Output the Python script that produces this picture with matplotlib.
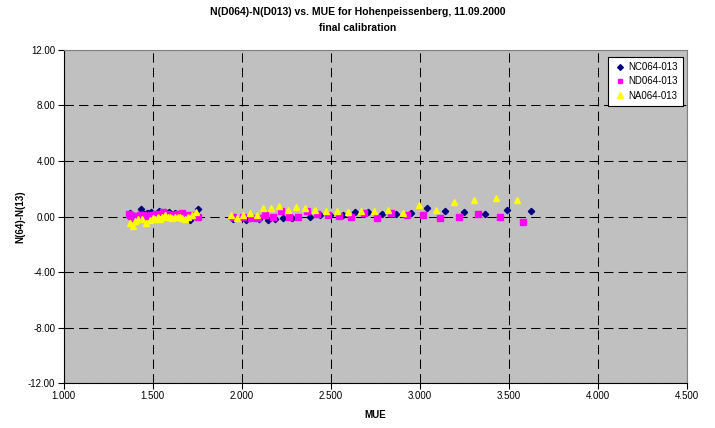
import matplotlib
matplotlib.use("Agg")
import matplotlib.pyplot as plt

plt.rcParams['font.family'] = ['Liberation Sans', 'DejaVu Sans']

# NC064-013 (navy diamonds)
nc_mue = [1.372, 1.381, 1.40, 1.42, 1.434, 1.45, 1.466, 1.474, 1.490, 1.51, 1.537, 1.55,
          1.569, 1.593, 1.625, 1.64, 1.66, 1.68, 1.71, 1.73, 1.756,
          1.951, 2.024, 2.097, 2.148, 2.187, 2.232, 2.283, 2.384, 2.440, 2.496, 2.569,
          2.636, 2.709, 2.788, 2.867, 2.951, 3.041, 3.142, 3.249, 3.367, 3.490, 3.625]
nc_val = [0.24, 0.10, 0.05, 0.10, 0.52, 0.15, 0.24, 0.24, 0.31, 0.15, 0.40, 0.20,
          0.31, 0.29, 0.24, 0.10, 0.05, 0.00, -0.24, 0.10, 0.52,
          -0.17, -0.24, -0.17, -0.24, -0.17, -0.09, -0.09, -0.02, 0.12, 0.12, 0.12,
          0.34, 0.34, 0.19, 0.19, 0.27, 0.63, 0.41, 0.34, 0.19, 0.48, 0.41]

# ND064-013 (magenta squares)
nd_mue = [1.365, 1.372, 1.380, 1.391, 1.41, 1.43, 1.447, 1.47, 1.49, 1.503, 1.52, 1.54,
          1.56, 1.58, 1.60, 1.616, 1.64, 1.663, 1.69, 1.719, 1.74, 1.756,
          1.951, 2.007, 2.052, 2.092, 2.131, 2.176, 2.221, 2.266, 2.317, 2.367, 2.423,
          2.485, 2.547, 2.614, 2.687, 2.760, 2.838, 2.928, 3.018, 3.114, 3.221, 3.329,
          3.453, 3.580]
nd_val = [0.15, 0.12, 0.05, -0.12, 0.05, 0.10, 0.12, 0.05, 0.10, 0.00, 0.15, 0.20,
          0.36, 0.20, 0.10, 0.12, 0.15, 0.24, 0.10, 0.12, 0.05, -0.05,
          -0.02, -0.02, -0.09, -0.09, 0.12, -0.02, 0.41, -0.02, -0.02, 0.41, 0.19,
          0.12, 0.05, -0.02, 0.27, -0.09, 0.27, 0.12, 0.12, -0.09, -0.02, 0.19,
          -0.02, -0.38]

# NA064-013 (yellow triangles)
na_mue = [1.373, 1.388, 1.40, 1.42, 1.438, 1.462, 1.485, 1.50, 1.513, 1.53, 1.541, 1.555,
          1.569, 1.585, 1.597, 1.61, 1.625, 1.64, 1.653, 1.667, 1.681, 1.70, 1.719, 1.743,
          1.940, 1.973, 2.007, 2.046, 2.086, 2.120, 2.165, 2.210, 2.261, 2.306, 2.356,
          2.412, 2.474, 2.536, 2.597, 2.670, 2.743, 2.822, 2.906, 2.996, 3.092, 3.193,
          3.306, 3.430, 3.548]
na_val = [-0.45, -0.72, -0.30, -0.20, -0.19, -0.48, -0.24, -0.10, -0.19, -0.05, -0.19, -0.05,
          0.12, -0.05, -0.05, -0.10, -0.05, -0.05, -0.05, -0.10, -0.19, 0.00, 0.12, 0.29,
          0.12, -0.09, 0.12, 0.27, 0.12, 0.63, 0.63, 0.77, 0.48, 0.70, 0.63,
          0.48, 0.41, 0.41, 0.34, 0.41, 0.41, 0.48, 0.27, 0.84, 0.48, 1.06,
          1.20, 1.35, 1.20]

x_ticks = [1.0, 1.5, 2.0, 2.5, 3.0, 3.5, 4.0, 4.5]
y_ticks = [-12, -8, -4, 0, 4, 8, 12]

fig = plt.figure(figsize=(7.15, 4.28), dpi=100)
ax = fig.add_axes([0.0891, 0.1051, 0.8713, 0.7781])
ax.set_facecolor('#C0C0C0')

ax.plot(nc_mue, nc_val, linestyle='none', marker='D', color='#000080', ms=3.2,
        mec='#000080', label='NC064-013', zorder=3)
ax.plot(nd_mue, nd_val, linestyle='none', marker='s', color='#FF00FF', ms=3.8,
        mec='#FF00FF', label='ND064-013', zorder=4)
ax.plot(na_mue, na_val, linestyle='none', marker='^', color='#FFFF00', ms=4.4,
        mec='#FFFF00', label='NA064-013', zorder=5)

ax.set_xlim(1.0, 4.5)
ax.set_ylim(-12, 12)
ax.set_xticks(x_ticks)
ax.set_yticks(y_ticks)
ax.set_xticklabels([f"{v:.3f}" for v in x_ticks], fontsize=7)
ax.set_yticklabels([f"{v:.2f}" for v in y_ticks], fontsize=7)
ax.tick_params(axis='both', direction='out', length=4, width=0.8, color='black', pad=2)

ax.grid(True, color='black', linestyle=(0, (9, 5)), linewidth=0.75, zorder=1)
ax.set_axisbelow(True)

for s in ['top', 'right']:
    ax.spines[s].set_color('#808080')
    ax.spines[s].set_linewidth(0.8)
for s in ['left', 'bottom']:
    ax.spines[s].set_color('black')
    ax.spines[s].set_linewidth(0.8)

ax.set_xlabel('MUE', fontsize=7, fontweight='bold', labelpad=6)
ax.set_ylabel('N(64)-N(13)', fontsize=7, fontweight='bold', labelpad=2)

fig.text(0.5, 0.972, 'N(D064)-N(D013) vs. MUE for Hohenpeissenberg, 11.09.2000',
         ha='center', va='center', fontsize=7.5, fontweight='bold')
fig.text(0.5, 0.935, 'final calibration', ha='center', va='center',
         fontsize=7.5, fontweight='bold')

leg = ax.legend(loc='upper right', bbox_to_anchor=(0.9995, 0.99), fontsize=7,
                frameon=True, fancybox=False, edgecolor='black', framealpha=1,
                handlelength=1.3, handletextpad=0.2, borderpad=0.55, labelspacing=0.45,
                borderaxespad=0.35, markerscale=0.9)
leg.get_frame().set_linewidth(0.8)

fig.savefig('out.png', dpi=100)
